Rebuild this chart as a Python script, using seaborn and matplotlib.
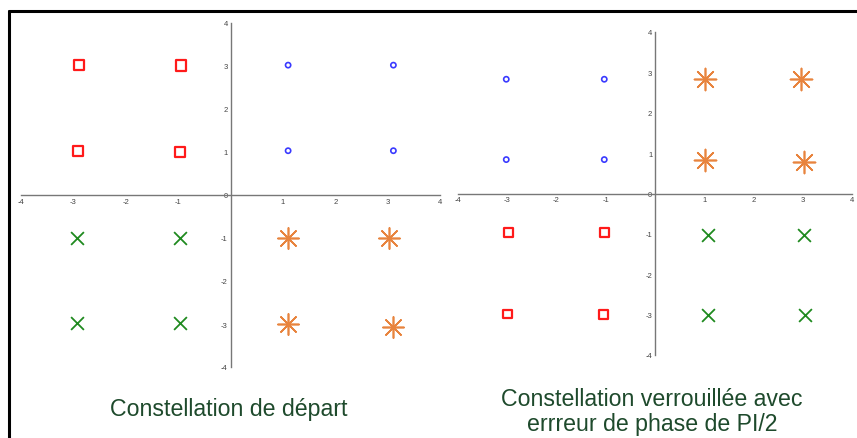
import numpy as np
import pandas as pd
import matplotlib
matplotlib.use("Agg")
import matplotlib.pyplot as plt
import seaborn as sns
from matplotlib.lines import Line2D

sns.set_style("white")
plt.rcParams['font.family'] = ['Liberation Sans', 'DejaVu Sans']

# ---- data: left panel (constellation de départ) ----
L_sq_x = [-2.89, -0.95, -2.91, -0.97]
L_sq_y = [3.02, 3.01, 1.02, 1.00]
L_ci_x = [1.10, 3.11, 1.10, 3.11]
L_ci_y = [3.02, 3.02, 1.03, 1.03]
L_x_x = [-2.94, -0.97, -2.93, -0.96]
L_x_y = [-0.99, -0.99, -2.98, -2.98]
L_as_x = [1.10, 3.03, 1.10, 3.10]
L_as_y = [-1.00, -1.00, -3.00, -3.06]

# ---- data: right panel (constellation verrouillée) ----
R_ci_x = [-3.02, -1.03, -3.02, -1.03]
R_ci_y = [2.83, 2.83, 0.84, 0.84]
R_as_x = [1.02, 2.96, 1.02, 3.02]
R_as_y = [2.83, 2.83, 0.84, 0.79]
R_sq_x = [-2.97, -1.03, -2.99, -1.05]
R_sq_y = [-0.96, -0.97, -2.98, -2.99]
R_x_x = [1.07, 3.03, 1.08, 3.04]
R_x_y = [-1.04, -1.04, -3.02, -3.02]

ticks = [-4, -3, -2, -1, 0, 1, 2, 3, 4]
xtick_labels = ["-4", "-3", "-2", "-1", "", "1", "2", "3", "4"]
ytick_labels = ["-4", "-3", "-2", "-1", "0", "1", "2", "3", "4"]

title_left = "Constellation de départ"
title_right = "Constellation verrouillée avec\nerrreur de phase de PI/2"

RED = "#ff1a1a"
BLUE = "#3a3aff"
GREEN = "#1f8a1f"
ORANGE = "#e8843e"
TXT = "#1e4a2c"
AX = "#777777"

fig = plt.figure(figsize=(8.57, 4.39), dpi=100)

axL = fig.add_axes([21/857, 1-368/439, 419/857, 344/439])
axR = fig.add_axes([458/857, 1-356/439, 394/857, 323/439])

ASTER = (8, 2, 0)

def draw(ax, sq, ci, xx, ast, sq_s, ci_s, x_s, as_s):
    sns.scatterplot(x=sq[0], y=sq[1], marker="s", s=sq_s, facecolor="none",
                    edgecolor=RED, linewidth=1.6, ax=ax)
    sns.scatterplot(x=ci[0], y=ci[1], marker="o", s=ci_s, facecolor="none",
                    edgecolor=BLUE, linewidth=1.2, ax=ax)
    sns.scatterplot(x=xx[0], y=xx[1], marker="x", s=x_s, color=GREEN,
                    linewidth=1.3, ax=ax)
    sns.scatterplot(x=ast[0], y=ast[1], marker=ASTER, s=as_s, color=ORANGE,
                    linewidth=1.2, ax=ax)
    ax.set_xlim(-4, 4)
    ax.set_ylim(-4, 4)
    for side in ["top", "right"]:
        ax.spines[side].set_visible(False)
    ax.spines["left"].set_position(("data", 0))
    ax.spines["bottom"].set_position(("data", 0))
    for side in ["left", "bottom"]:
        ax.spines[side].set_color(AX)
        ax.spines[side].set_linewidth(1.0)
    ax.set_xticks(ticks)
    ax.set_xticklabels(xtick_labels)
    ax.set_yticks(ticks)
    ax.set_yticklabels(ytick_labels)
    ax.tick_params(direction="in", length=3, width=0.8, color=AX,
                   labelsize=5.5, labelcolor="#444444", pad=2)
    ax.set_xlabel("")
    ax.set_ylabel("")
    ax.patch.set_alpha(0)

draw(axL, (L_sq_x, L_sq_y), (L_ci_x, L_ci_y), (L_x_x, L_x_y), (L_as_x, L_as_y),
     55, 14, 85, 230)
draw(axR, (R_sq_x, R_sq_y), (R_ci_x, R_ci_y), (R_x_x, R_x_y), (R_as_x, R_as_y),
     38, 14, 85, 250)

fig.text(229/857, 1-410/439, title_left, ha="center", va="center",
         fontsize=16.7, color=TXT)
fig.text(652/857, 1-412/439, title_right, ha="center", va="center",
         fontsize=16.7, color=TXT, linespacing=1.12)

# frame lines (top and left)
fig.add_artist(Line2D([9/857, 1], [1-12/439, 1-12/439], transform=fig.transFigure,
                      color="black", linewidth=2.2))
fig.add_artist(Line2D([9/857, 9/857], [0, 1-12/439], transform=fig.transFigure,
                      color="black", linewidth=2.2))

fig.savefig("out.png", dpi=100)
